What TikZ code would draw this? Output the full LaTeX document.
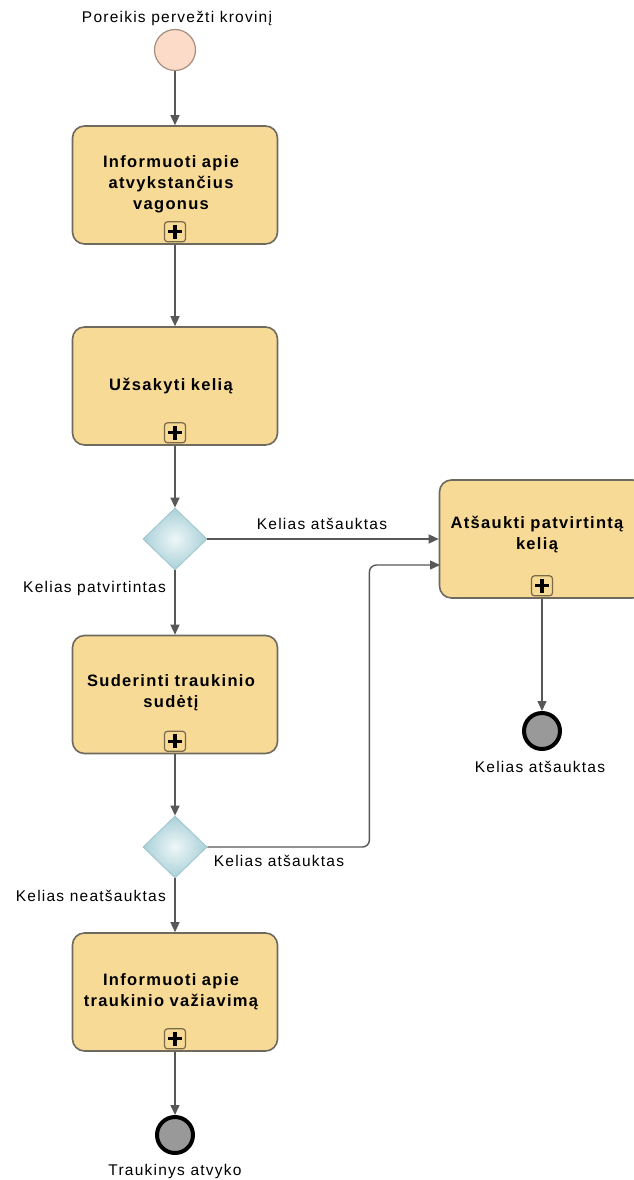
\documentclass[tikz,border=0pt]{standalone}
\usepackage{fontspec}
\setmainfont{Liberation Sans}
\newfontfamily\lblfont[LetterSpace=8]{Liberation Sans}
\newfontfamily\tskfont[LetterSpace=8]{Liberation Sans Bold}
\usetikzlibrary{shapes.geometric,arrows.meta,calc}

\definecolor{taskfill}{HTML}{F7DA96}
\definecolor{taskline}{HTML}{6E6A5E}
\definecolor{markline}{HTML}{7A6A48}
\definecolor{startfill}{HTML}{FCDCC8}
\definecolor{startline}{HTML}{A58E80}
\definecolor{gateout}{HTML}{A9D0D8}
\definecolor{gatein}{HTML}{EEF7F8}
\definecolor{gateline}{HTML}{9CC4CC}
\definecolor{endfill}{HTML}{999999}
\definecolor{flowline}{HTML}{585858}

\tikzset{
  task/.style={draw=taskline, line width=1.6pt, fill=taskfill, rounded corners=12pt,
    minimum width=205pt, minimum height=118pt, inner sep=0pt},
  tasktext/.style={font=\tskfont\fontsize{16.5}{21}\selectfont, align=center,
    text width=200pt},
  submark/.style={draw=markline, line width=1.2pt, fill=taskfill, rounded corners=3pt,
    minimum width=21pt, minimum height=20pt, inner sep=0pt},
  plusbar/.style={draw=black, line width=3.2pt},
  startev/.style={circle, draw=startline, line width=1.2pt, fill=startfill,
    minimum size=41pt, inner sep=0pt},
  endev/.style={circle, draw=black, line width=4pt, fill=endfill,
    minimum size=36pt, inner sep=0pt},
  gate/.style={diamond, draw=gateline, line width=0.8pt, inner color=gatein, outer color=gateout,
    minimum width=64pt, minimum height=62pt, inner sep=0pt, aspect=1},
  lbl/.style={font=\lblfont\fontsize{15.5}{18}\selectfont, text=black, inner sep=0pt},
  flow/.style={draw=flowline, line width=1.4pt,
    -{Triangle[length=10pt, width=9pt, fill=flowline]}},
}

% collapsed sub-process marker with its plus sign
\newcommand{\submarker}[2]{%
  \node[submark] (#1) at #2 {};
  \draw[plusbar] ($(#1.center)+(-7,0)$) -- ($(#1.center)+(7,0)$)
                 ($(#1.center)+(0,-7)$) -- ($(#1.center)+(0,7)$);
}

\begin{document}
\begin{tikzpicture}[x=1pt, y=-1pt]
\useasboundingbox (0,0) rectangle (633,1180);
\fill[white] (0,0) rectangle (633,1180);

% events
\node[startev] (start) at (175,50) {};
\node[lbl] (startlbl) at (177,18) {Poreikis pervežti krovinį};

% tasks
\node[task] (t1) at (175,185) {};
\node[tasktext] (t1txt) at (171,184) {Informuoti apie\\atvykstančius\\vagonus};
\submarker{m1}{($(t1.south)+(0,-13)$)}

\node[task] (t2) at (175,386) {};
\node[tasktext] (t2txt) at (171,386) {Užsakyti kelią};
\submarker{m2}{($(t2.south)+(0,-13)$)}

\node[gate] (g1) at (175,539) {};

\node[task] (t3) at (542,539) {};
\node[tasktext] (t3txt) at (537,535) {Atšaukti patvirtintą\\kelią};
\submarker{m3}{($(t3.south)+(0,-13)$)}

\node[task] (t4) at (175,694.5) {};
\node[tasktext] (t4txt) at (171,693) {Suderinti traukinio\\sudėtį};
\submarker{m4}{($(t4.south)+(0,-13)$)}

\node[gate] (g2) at (175,847) {};

\node[task] (t5) at (175,992) {};
\node[tasktext] (t5txt) at (171,992) {Informuoti apie\\traukinio važiavimą};
\submarker{m5}{($(t5.south)+(0,-13)$)}

\node[endev] (end1) at (175,1135) {};
\node[lbl] (end1lbl) at (175,1171) {Traukinys atvyko};

\node[endev] (end2) at (542,731) {};
\node[lbl] (end2lbl) at (540,767) {Kelias atšauktas};

% sequence flows
\coordinate (t3in) at (440,565);
\draw[flow] (start) -- (start|-t1.north);
\draw[flow] (t1) -- (t2);
\draw[flow] (t2) -- (g1);
\draw[flow] (g1.east) -- (g1.east-|t3.west);
\draw[flow] (g1) -- (t4);
\draw[flow] (t4) -- (g2);
\draw[flow, rounded corners=7pt] (g2.east) -- ++(162,0) |- (t3in);
\draw[flow] (g2) -- (t5);
\draw[flow] (t5) -- (end1);
\draw[flow] (t3) -- (end2);

% flow labels
\node[lbl] (f1) at (322,524) {Kelias atšauktas};
\node[lbl, anchor=east] (f2) at (166,588) {Kelias patvirtintas};
\node[lbl] (f3) at (279,861) {Kelias atšauktas};
\node[lbl, anchor=east] (f4) at (166,896) {Kelias neatšauktas};
\end{tikzpicture}
\end{document}
